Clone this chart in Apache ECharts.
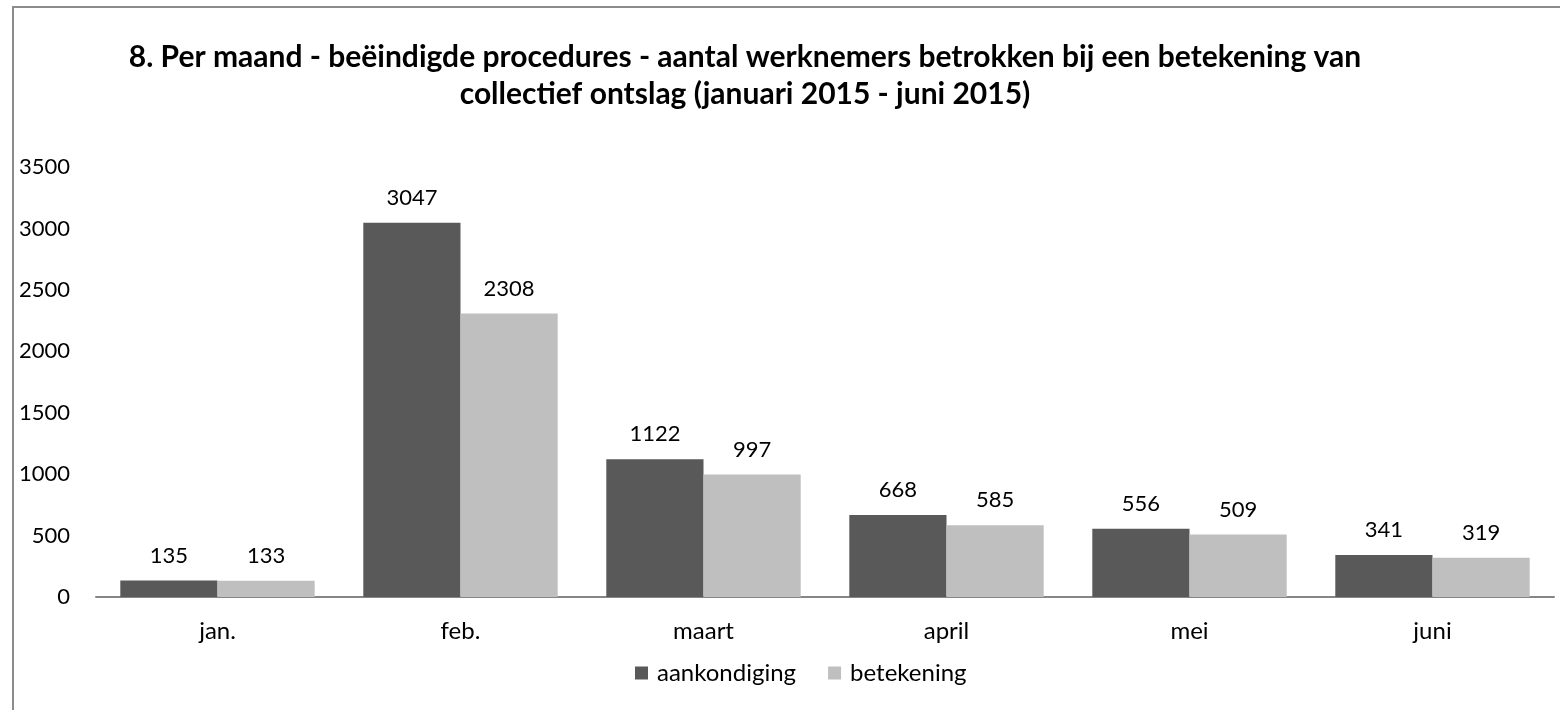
<!DOCTYPE html>
<html>
<head>
<meta charset="utf-8">
<script src="https://cdn.jsdelivr.net/npm/echarts@6/dist/echarts.min.js"></script>
<style>
  html, body { margin: 0; padding: 0; background: #fff; }
  #frame { position: absolute; left: 12px; top: 6px; width: 1600px; height: 760px; border: 2px solid #8c8c8c; box-sizing: border-box; }
  #chart { position: absolute; left: 0; top: 0; width: 1560px; height: 710px; }
</style>
</head>
<body>
<div id="frame"></div>
<div id="chart"></div>
<script>
var months = ['jan.', 'feb.', 'maart', 'april', 'mei', 'juni'];
var aankondiging = [135, 3047, 1122, 668, 556, 341];
var betekening = [133, 2308, 997, 585, 509, 319];

var font = 'Lato, Open Sans, sans-serif';
var myChart = echarts.init(document.getElementById('chart'));
var option = {
    animation: false,
    title: {
        text: '8. Per maand - beëindigde procedures - aantal werknemers betrokken bij een betekening van\ncollectief ontslag (januari 2015 - juni 2015)',
        left: 740,
        top: 34,
        textAlign: 'center',
        textStyle: { fontFamily: font, fontSize: 30, fontWeight: 'bold', color: '#000', lineHeight: 37 }
    },
    legend: {
        data: ['aankondiging', 'betekening'],
        left: 630,
        top: 656,
        itemWidth: 13,
        itemHeight: 13,
        itemGap: 32,
        icon: 'rect',
        textStyle: { fontFamily: font, fontSize: 24, color: '#000', padding: [0, 0, 0, 4] }
    },
    grid: { left: 96, right: 6, top: 167, bottom: 113, containLabel: false },
    xAxis: {
        type: 'category',
        data: months,
        axisLine: { lineStyle: { color: '#868686', width: 2 } },
        axisTick: { show: false },
        axisLabel: { fontFamily: font, fontSize: 24, color: '#000', margin: 22 }
    },
    yAxis: {
        type: 'value',
        min: 0,
        max: 3500,
        interval: 500,
        axisLine: { show: false },
        axisTick: { show: false },
        splitLine: { show: false },
        axisLabel: { fontFamily: font, fontSize: 22, color: '#000', margin: 26, formatter: function (v) { return String(v); } }
    },
    series: [
        {
            name: 'aankondiging',
            type: 'bar',
            data: aankondiging,
            barGap: '0%',
            barCategoryGap: '20%',
            itemStyle: { color: '#595959' },
            label: { show: true, position: 'top', distance: 14, fontFamily: font, fontSize: 22, color: '#000' }
        },
        {
            name: 'betekening',
            type: 'bar',
            data: betekening,
            itemStyle: { color: '#bfbfbf' },
            label: { show: true, position: 'top', distance: 14, fontFamily: font, fontSize: 22, color: '#000' }
        }
    ]
};
myChart.setOption(option);
</script>
</body>
</html>
